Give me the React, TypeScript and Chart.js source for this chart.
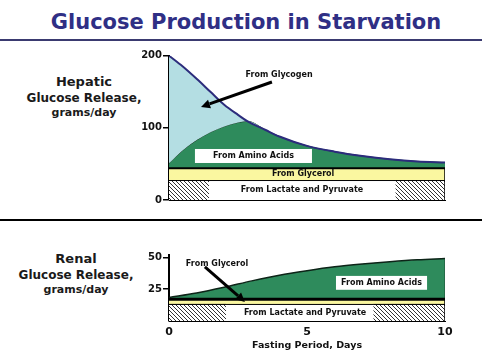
import React, { useEffect, useRef } from 'react';
import { Chart, registerables } from 'chart.js';

Chart.register(...registerables);

// ---------- data ----------
const days = [0, 0.5, 1, 1.5, 2, 2.5, 2.85, 3.5, 4, 5, 6, 7, 8, 9, 10];
const hepaticTotal = [200, 185, 168, 150, 132, 118, 109, 97, 88, 75, 67, 61, 56.5, 53.5, 52];
const hepaticAminoTop = [51, 69, 83, 94, 102, 107.5, 109, 97, 88, 75, 67, 61, 56.5, 53.5, 52];
const hepaticGlycerolTop = 44;
const hepaticLactateTop = 27;
const hepaticHatchLeft = [0, 1.45];
const hepaticHatchRight = [8.2, 10];
const hepaticTicks = [0, 100, 200];

const renalDays = [0, 1, 2, 3, 4, 5, 6, 7, 8, 9, 10];
const renalAminoTop = [18.5, 22, 26.5, 31.5, 36, 39.5, 42.5, 44.7, 46.5, 48, 49];
const renalGlycerolTop = 17;
const renalLactateTop = 13;
const renalHatchLeft = [0, 2.07];
const renalHatchRight = [7.4, 10];
const renalTicks = [25, 50];
const dayTicks = [0, 5, 10];
const dayRange = [0, 10];

// ---------- styles ----------
const FONT = '"DejaVu Sans", Verdana, sans-serif';
const YELLOW = '#faf7a0';
const GREEN = '#2e8b5c';
const LIGHTBLUE = '#b4dee3';
const NAVY = '#2c2c7c';
const INK = '#111';

type Note = { text: string; x: number; y: number; box?: [number, number, number, number] };
type Arrow = { from: [number, number]; to: [number, number] };

const hepaticNotes: Note[] = [
  { text: 'From Glycogen', x: 3.99, y: 174 },
  { text: 'From Amino Acids', x: 3.06, y: 61, box: [0.94, 5.18, 70.7, 51.3] },
  { text: 'From Glycerol', x: 4.86, y: 35.5 },
  { text: 'From Lactate and Pyruvate', x: 4.82, y: 13.5 },
];
const hepaticArrows: Arrow[] = [{ from: [3.73, 163.5], to: [1.16, 129] }];

const renalNotes: Note[] = [
  { text: 'From Glycerol', x: 1.74, y: 44.8 },
  { text: 'From Amino Acids', x: 7.7, y: 30, box: [6.05, 9.35, 35.4, 24.5] },
  { text: 'From Lactate and Pyruvate', x: 4.93, y: 6.5 },
];
const renalArrows: Arrow[] = [{ from: [1.3, 42.4], to: [2.75, 15] }];

function makeHatch(): CanvasPattern | string {
  const n = 4;
  const c = document.createElement('canvas');
  c.width = n;
  c.height = n;
  const g = c.getContext('2d');
  if (!g) return '#888';
  g.fillStyle = '#fff';
  g.fillRect(0, 0, n, n);
  g.fillStyle = '#333';
  for (let i = 0; i < n; i++) g.fillRect(i, i, 1, 1);
  return g.createPattern(c, 'repeat') || '#888';
}

function drawArrow(ctx: CanvasRenderingContext2D, x1: number, y1: number, x2: number, y2: number) {
  const head = 9;
  const ang = Math.atan2(y2 - y1, x2 - x1);
  const bx = x2 - head * Math.cos(ang);
  const by = y2 - head * Math.sin(ang);
  ctx.strokeStyle = '#000';
  ctx.fillStyle = '#000';
  ctx.lineWidth = 3;
  ctx.beginPath();
  ctx.moveTo(x1, y1);
  ctx.lineTo(bx, by);
  ctx.stroke();
  const w = 4.5;
  ctx.beginPath();
  ctx.moveTo(x2, y2);
  ctx.lineTo(bx + w * Math.sin(ang), by - w * Math.cos(ang));
  ctx.lineTo(bx - w * Math.sin(ang), by + w * Math.cos(ang));
  ctx.closePath();
  ctx.fill();
}

function notesPlugin(notes: Note[], arrows: Arrow[]) {
  return {
    id: 'notes',
    afterDatasetsDraw(chart: any) {
      const { ctx } = chart;
      const xs = chart.scales.x;
      const ys = chart.scales.y;
      ctx.save();
      for (const n of notes) {
        if (n.box) {
          const [x0, x1, y0, y1] = n.box;
          ctx.fillStyle = '#fff';
          const px0 = xs.getPixelForValue(x0);
          const px1 = xs.getPixelForValue(x1);
          const py0 = ys.getPixelForValue(y0);
          const py1 = ys.getPixelForValue(y1);
          ctx.fillRect(px0, py0, px1 - px0, py1 - py0);
        }
        ctx.fillStyle = INK;
        ctx.font = `bold 8px ${FONT}`;
        ctx.textAlign = 'center';
        ctx.textBaseline = 'middle';
        ctx.fillText(n.text, xs.getPixelForValue(n.x), ys.getPixelForValue(n.y));
      }
      for (const a of arrows) {
        drawArrow(
          ctx,
          xs.getPixelForValue(a.from[0]),
          ys.getPixelForValue(a.from[1]),
          xs.getPixelForValue(a.to[0]),
          ys.getPixelForValue(a.to[1])
        );
      }
      ctx.restore();
    },
  };
}

const band = (x: number[], y: number) => x.map((v) => ({ x: v, y }));
const curve = (x: number[], y: number[]) => x.map((v, i) => ({ x: v, y: y[i] }));

const tickFont = (size: number) => ({ family: FONT, size, weight: 'bold' as const });

function bandDatasets(
  hatch: CanvasPattern | string,
  lactTop: number,
  glyTop: number,
  hatchL: number[],
  hatchR: number[],
  glyLine: number
) {
  return [
    {
      label: 'glycerol',
      data: band(dayRange, glyTop),
      fill: { value: lactTop },
      backgroundColor: YELLOW,
      borderColor: '#000',
      borderWidth: glyLine,
      order: 8,
    },
    {
      label: 'lactate',
      data: band(dayRange, lactTop),
      fill: 'origin',
      backgroundColor: '#fff',
      borderColor: '#000',
      borderWidth: 1,
      order: 7,
    },
    {
      label: 'hatchL',
      data: band(hatchL, lactTop),
      fill: 'origin',
      backgroundColor: hatch,
      borderColor: '#000',
      borderWidth: 1,
      order: 6,
    },
    {
      label: 'hatchR',
      data: band(hatchR, lactTop),
      fill: 'origin',
      backgroundColor: hatch,
      borderColor: '#000',
      borderWidth: 1,
      order: 6,
    },
    {
      label: 'edge',
      data: [
        { x: dayRange[1], y: 0 },
        { x: dayRange[1], y: glyTop },
      ],
      fill: false,
      borderColor: '#000',
      borderWidth: 1.5,
      order: 5,
    },
  ];
}

function yAxis(max: number, ticks: number[]) {
  return {
    type: 'linear',
    min: 0,
    max,
    z: 1,
    afterBuildTicks: (s: any) => {
      s.ticks = ticks.map((v) => ({ value: v }));
    },
    afterFit: (s: any) => {
      s.width = 69;
    },
    grid: { display: true, drawOnChartArea: false, drawTicks: true, tickLength: 6, color: '#000', lineWidth: 1.5 },
    border: { display: true, color: '#000', width: 2 },
    ticks: { color: INK, font: tickFont(10), padding: 1 },
  };
}

function TopChart() {
  const ref = useRef<HTMLCanvasElement>(null);
  useEffect(() => {
    if (!ref.current) return;
    const hatch = makeHatch();
    const chart = new Chart(ref.current, {
      type: 'line',
      data: {
        datasets: [
          {
            label: 'amino',
            data: curve(days, hepaticAminoTop),
            fill: { value: hepaticGlycerolTop },
            backgroundColor: GREEN,
            borderColor: '#1c3a2a',
            borderWidth: 1,
            cubicInterpolationMode: 'monotone',
            order: 10,
          },
          {
            label: 'glycogen',
            data: curve(days, hepaticTotal),
            fill: 0,
            backgroundColor: LIGHTBLUE,
            borderColor: NAVY,
            borderWidth: 2,
            cubicInterpolationMode: 'monotone',
            order: 9,
          },
          ...bandDatasets(hatch, hepaticLactateTop, hepaticGlycerolTop, hepaticHatchLeft, hepaticHatchRight, 2),
        ] as any,
      },
      options: {
        responsive: false,
        animation: false,
        devicePixelRatio: 1,
        layout: { padding: { top: 10.7, right: 15, bottom: 0, left: 0 } },
        elements: { point: { radius: 0 }, line: { tension: 0 } },
        plugins: { legend: { display: false }, tooltip: { enabled: false } },
        scales: {
          x: {
            type: 'linear',
            min: 0,
            max: 10,
            z: 1,
            ticks: { display: false },
            grid: { display: false, drawTicks: false },
            border: { display: true, color: '#000', width: 1, dash: [1, 1] },
            afterFit: (s: any) => {
              s.height = 10;
            },
          },
          y: yAxis(200, hepaticTicks),
        } as any,
      },
      plugins: [notesPlugin(hepaticNotes, hepaticArrows)],
    });
    return () => chart.destroy();
  }, []);
  return <canvas ref={ref} width={360} height={165} style={{ position: 'absolute', left: 100, top: 45 }} />;
}

function BottomChart() {
  const ref = useRef<HTMLCanvasElement>(null);
  useEffect(() => {
    if (!ref.current) return;
    const hatch = makeHatch();
    const chart = new Chart(ref.current, {
      type: 'line',
      data: {
        datasets: [
          {
            label: 'amino',
            data: curve(renalDays, renalAminoTop),
            fill: { value: renalGlycerolTop },
            backgroundColor: GREEN,
            borderColor: '#0d2418',
            borderWidth: 1.5,
            cubicInterpolationMode: 'monotone',
            order: 10,
          },
          {
            label: 'aminoEdge',
            data: [
              { x: renalDays[renalDays.length - 1], y: renalGlycerolTop },
              { x: renalDays[renalDays.length - 1], y: renalAminoTop[renalAminoTop.length - 1] },
            ],
            fill: false,
            borderColor: '#1c4a32',
            borderWidth: 1,
            order: 9,
          },
          ...bandDatasets(hatch, renalLactateTop, renalGlycerolTop, renalHatchLeft, renalHatchRight, 3),
        ] as any,
      },
      options: {
        responsive: false,
        animation: false,
        devicePixelRatio: 1,
        layout: { padding: { top: 10.4, right: 15, bottom: 0, left: 0 } },
        elements: { point: { radius: 0 }, line: { tension: 0 } },
        plugins: { legend: { display: false }, tooltip: { enabled: false } },
        scales: {
          x: {
            type: 'linear',
            min: 0,
            max: 10,
            z: 1,
            afterBuildTicks: (s: any) => {
              s.ticks = dayTicks.map((v) => ({ value: v }));
            },
            ticks: { color: INK, font: tickFont(11), padding: 5, maxRotation: 0 },
            grid: { display: false, drawTicks: false },
            border: { display: true, color: '#000', width: 1 },
            title: {
              display: true,
              text: 'Fasting Period, Days',
              color: INK,
              font: tickFont(9.5),
              padding: { top: 1, bottom: 4 },
            },
            afterFit: (s: any) => {
              s.height = 34;
            },
          },
          y: yAxis(51.5, renalTicks),
        } as any,
      },
      plugins: [notesPlugin(renalNotes, renalArrows)],
    });
    return () => chart.destroy();
  }, []);
  return <canvas ref={ref} width={360} height={110} style={{ position: 'absolute', left: 100, top: 245 }} />;
}

const sideLabel = (cx: number, top: number, lines: { t: string; size: number }[]) => (
  <div
    style={{
      position: 'absolute',
      left: cx - 80,
      width: 160,
      top,
      textAlign: 'center',
      fontFamily: FONT,
      fontWeight: 'bold',
      color: '#1a1a1a',
    }}
  >
    {lines.map((l, i) => (
      <div key={i} style={{ fontSize: l.size, lineHeight: i === 2 ? '14px' : '16px', whiteSpace: 'nowrap' }}>
        {l.t}
      </div>
    ))}
  </div>
);

export default function App() {
  return (
    <div
      style={{
        position: 'fixed',
        left: 0,
        top: 0,
        width: 482,
        height: 361,
        background: '#fff',
        overflow: 'hidden',
      }}
    >
      <div
        style={{
          position: 'absolute',
          left: 46,
          width: 400,
          top: 9,
          textAlign: 'center',
          fontFamily: FONT,
          fontWeight: 'bold',
          fontSize: 21,
          lineHeight: '26px',
          color: '#2f2f85',
          whiteSpace: 'nowrap',
        }}
      >
        Glucose Production in Starvation
      </div>
      <div style={{ position: 'absolute', left: 0, top: 39, width: 482, height: 2, background: '#3a3a70' }} />
      <div style={{ position: 'absolute', left: 0, top: 219, width: 482, height: 2, background: '#000' }} />
      {sideLabel(84, 74, [
        { t: 'Hepatic', size: 13 },
        { t: 'Glucose Release,', size: 12 },
        { t: 'grams/day', size: 11 },
      ])}
      {sideLabel(76, 251, [
        { t: 'Renal', size: 13 },
        { t: 'Glucose Release,', size: 12 },
        { t: 'grams/day', size: 11 },
      ])}
      <TopChart />
      <BottomChart />
    </div>
  );
}
